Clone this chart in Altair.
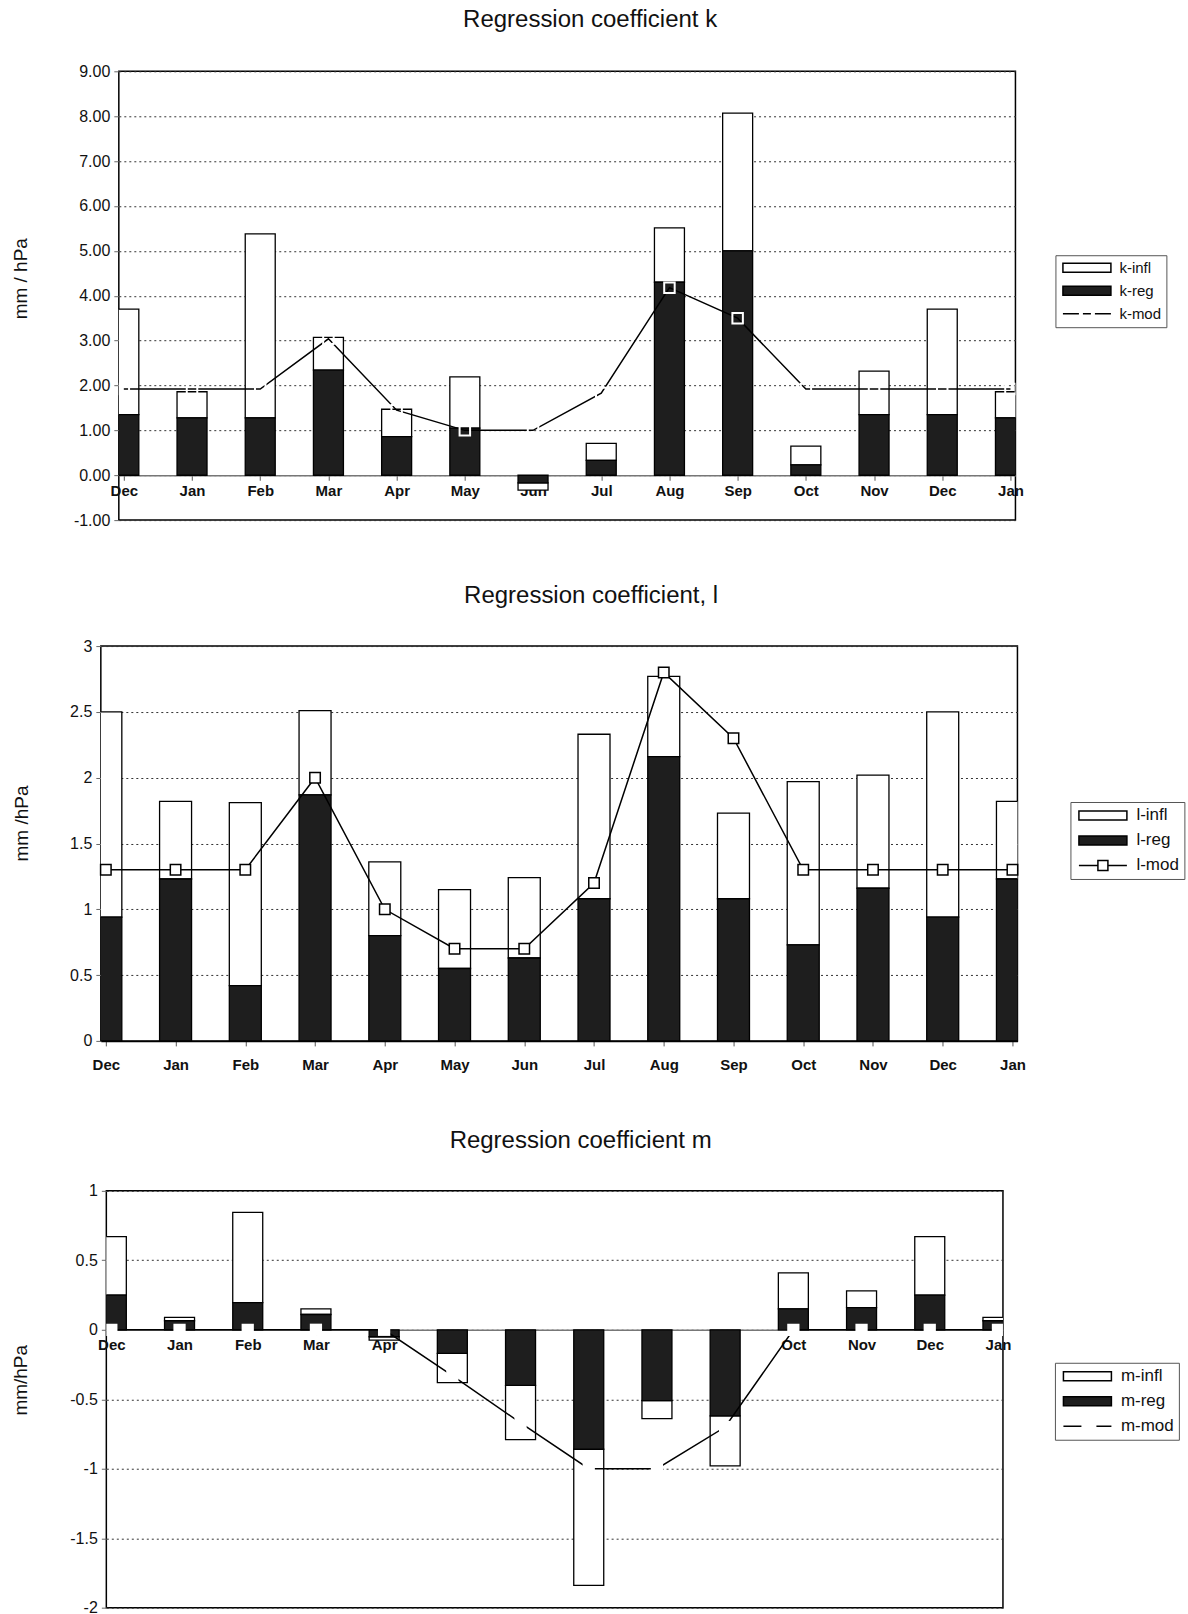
import json

import altair as alt
import pandas as pd

# Month sequence along the x axis (December to the following January)
months = ["Dec", "Jan", "Feb", "Mar", "Apr", "May", "Jun",
          "Jul", "Aug", "Sep", "Oct", "Nov", "Dec", "Jan"]

# Coefficient k: regression part, inflation part (stacked on top), model
k_reg = [1.35, 1.28, 1.28, 2.34, 0.86, 1.05, -0.17, 0.33, 4.30, 5.00, 0.23, 1.35, 1.35, 1.28]
k_infl = [2.35, 0.58, 4.10, 0.73, 0.61, 1.14, -0.16, 0.38, 1.21, 3.07, 0.42, 0.97, 2.35, 0.58]
k_mod = [1.92, 1.92, 1.92, 3.04, 1.45, 1.00, 1.00, 1.83, 4.18, 3.50, 1.92, 1.92, 1.92, 1.92]

# Coefficient l
l_reg = [0.94, 1.23, 0.42, 1.87, 0.80, 0.55, 0.63, 1.08, 2.16, 1.08, 0.73, 1.16, 0.94, 1.23]
l_infl = [1.56, 0.59, 1.39, 0.64, 0.56, 0.60, 0.61, 1.25, 0.61, 0.65, 1.24, 0.86, 1.56, 0.59]
l_mod = [1.30, 1.30, 1.30, 2.00, 1.00, 0.70, 0.70, 1.20, 2.80, 2.30, 1.30, 1.30, 1.30, 1.30]

# Coefficient m
m_reg = [0.25, 0.065, 0.195, 0.11, -0.05, -0.17, -0.40, -0.86, -0.51, -0.62, 0.15, 0.16, 0.25, 0.065]
m_infl = [0.42, 0.025, 0.65, 0.04, -0.025, -0.21, -0.39, -0.98, -0.13, -0.36, 0.26, 0.12, 0.42, 0.025]
m_mod = [0.0, 0.0, 0.0, 0.0, 0.0, -0.33, -0.67, -1.00, -1.00, -0.70, 0.0, 0.0, 0.0, 0.0]

FONT = "Liberation Sans"
DARK = "#1e1e1e"
MONTH_EXPR = json.dumps(months) + "[datum.value]"

# Legend glyphs (custom symbol paths, drawn at symbol size 100 -> 5 px per unit)
RECT = "M-1,-0.9H8.6V0.9H-1Z"
MOD_PATHS = {
    "k": "M-1,0H2.2M3,0H4.6M5.4,0H8.6",
    "l": "M-1,0H2.8M4.8,0H8.6M2.8,-1H4.8V1H2.8Z",
    "m": "M-1,0H2.6M5.6,0H8.6",
}


def frame(reg, infl, mod):
    return pd.DataFrame({
        "idx": list(range(len(months))),
        "month": months,
        "reg": reg,
        "top": [r + i for r, i in zip(reg, infl)],
        "mod": mod,
    })


def panel(name, reg, infl, mod, *, title, ytitle, ydom, yvals, yfmt,
          width, height, bar_size, title_x, title_y, title_offset, title_dx,
          legend_xy, legend_font, zero_color, xlabel_pad):
    df = frame(reg, infl, mod)
    zero_offset = -height * (0 - ydom[0]) / (ydom[1] - ydom[0])

    x_axis = alt.Axis(
        title=None, values=list(range(len(months))), labelExpr=MONTH_EXPR,
        grid=False, offset=zero_offset, domainColor=zero_color, domainWidth=1.5,
        tickColor="#555", tickSize=5, labelFlush=False, labelOverlap=False,
        labelFont=FONT, labelFontSize=15, labelFontWeight="bold",
        labelColor="#111", labelPadding=xlabel_pad,
    )
    y_axis = alt.Axis(
        title=ytitle, titleFont=FONT, titleFontSize=19, titleFontWeight="normal",
        titleColor="#111", titleX=title_x, titleY=title_y, titleBaseline="middle",
        titleAngle=270, values=yvals, format=yfmt,
        labelExpr="replace(datum.label, '\u2212', '-')",
        grid=True, gridDash=[2, 3], gridColor="#333", gridWidth=1,
        domain=False, ticks=True, tickSize=5, tickColor="#666",
        labelFont=FONT, labelFontSize=16, labelColor="#111", labelPadding=4,
    )
    x_enc = alt.X("idx:Q", scale=alt.Scale(domain=[0, len(months) - 1], nice=False, zero=False),
                  axis=x_axis)
    y_scale = alt.Scale(domain=ydom, nice=False, zero=False)

    base = alt.Chart(df)
    infl_bar = base.mark_bar(size=bar_size, fill="white", stroke="black", strokeWidth=1.3,
                             opacity=1, clip=True).encode(
        x=x_enc, y=alt.Y("reg:Q", scale=y_scale, axis=y_axis), y2="top:Q")
    reg_bar = base.mark_bar(size=bar_size, fill=DARK, stroke="black", strokeWidth=1.3,
                            opacity=1, clip=True).encode(
        x=x_enc, y=alt.Y("reg:Q", scale=y_scale, axis=y_axis), y2=alt.datum(0))
    mod_line = base.mark_line(color="black", strokeWidth=1.5, clip=True).encode(
        x=x_enc, y=alt.Y("mod:Q", scale=y_scale, axis=y_axis))

    if name == "k":
        marks = base.mark_point(shape="square", size=110, filled=False, color="white",
                                strokeWidth=2, opacity=1, clip=True)
    elif name == "l":
        marks = base.mark_point(shape="square", size=110, filled=True, fill="white",
                                stroke="black", strokeWidth=1.5, opacity=1)
    else:
        marks = base.mark_point(shape="square", size=150, filled=True, color="white",
                                strokeWidth=0, opacity=1, clip=True)
    markers = marks.encode(x=x_enc, y=alt.Y("mod:Q", scale=y_scale, axis=y_axis))

    series = [f"{name}-infl", f"{name}-reg", f"{name}-mod"]
    legend = alt.Legend(
        title=None, orient="none", legendX=legend_xy[0], legendY=legend_xy[1],
        strokeColor="#555", fillColor="white", padding=5, rowPadding=7,
        symbolSize=100, symbolStrokeColor="black", symbolStrokeWidth=1.5,
        symbolOpacity=1, labelFont=FONT, labelFontSize=legend_font, labelColor="#111",
        labelOffset=44,
    )
    key = alt.Chart(pd.DataFrame({"series": series})).mark_point(
        filled=True, size=100, strokeWidth=1.5, opacity=1, clip=True
    ).encode(
        x=alt.value(0), y=alt.value(-5000),
        shape=alt.Shape("series:N", scale=alt.Scale(domain=series,
                        range=[RECT, RECT, MOD_PATHS[name]]), legend=legend),
        fill=alt.Fill("series:N", scale=alt.Scale(domain=series,
                      range=["white", DARK, "white"]), legend=legend),
        stroke=alt.Stroke("series:N", scale=alt.Scale(domain=series,
                          range=["black", "black", "black"]), legend=legend),
    )

    return alt.layer(infl_bar, reg_bar, mod_line, markers, key).properties(
        width=width, height=height,
        title=alt.Title(title, font=FONT, fontSize=24, fontWeight="normal", color="#111",
                        anchor="middle", frame="group", dx=title_dx, offset=title_offset),
    )


k_chart = panel("k", k_reg, k_infl, k_mod, title="Regression coefficient k",
                ytitle="mm / hPa", ydom=[-1, 9], yvals=list(range(-1, 10)), yfmt=".2f",
                width=897, height=449, bar_size=30, title_x=-98, title_y=207,
                title_offset=31, title_dx=23, legend_xy=(937, 184), legend_font=15,
                zero_color="#777", xlabel_pad=3)
l_chart = panel("l", l_reg, l_infl, l_mod, title="Regression coefficient, l",
                ytitle="mm /hPa", ydom=[0, 3], yvals=[0, 0.5, 1, 1.5, 2, 2.5, 3], yfmt="~g",
                width=917, height=395, bar_size=32, title_x=-79, title_y=177,
                title_offset=30, title_dx=32, legend_xy=(970, 156), legend_font=17,
                zero_color="black", xlabel_pad=12)
m_chart = panel("m", m_reg, m_infl, m_mod, title="Regression coefficient m",
                ytitle="mm/hPa", ydom=[-2, 1], yvals=[-2, -1.5, -1, -0.5, 0, 0.5, 1], yfmt="~g",
                width=897, height=417, bar_size=30, title_x=-86, title_y=189,
                title_offset=30, title_dx=26, legend_xy=(949, 172), legend_font=17,
                zero_color="#777", xlabel_pad=3)

chart = alt.vconcat(k_chart, l_chart, m_chart, spacing=54, center=True).resolve_scale(
    fill="independent", shape="independent", stroke="independent"
).resolve_legend(
    fill="independent", shape="independent", stroke="independent"
).properties(
    padding={"left": 10.5, "top": 7, "right": 2, "bottom": 2},
    background="white",
).configure_view(stroke="black", strokeWidth=1.5)

chart.save("out.html", embed_options={"renderer": "svg", "actions": False})
